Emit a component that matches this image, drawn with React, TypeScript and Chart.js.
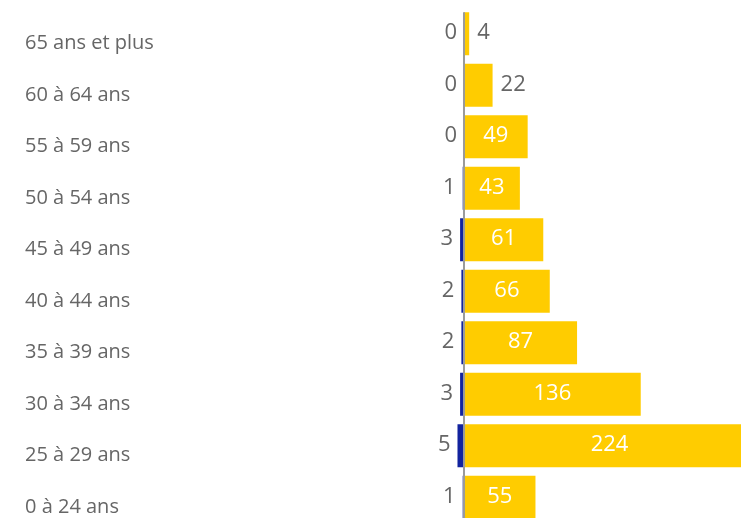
import React, { useEffect, useRef } from "react";
import { Chart, registerables } from "chart.js";

Chart.register(...registerables);

const categories = [
  "65 ans et plus",
  "60 à 64 ans",
  "55 à 59 ans",
  "50 à 54 ans",
  "45 à 49 ans",
  "40 à 44 ans",
  "35 à 39 ans",
  "30 à 34 ans",
  "25 à 29 ans",
  "0 à 24 ans",
];
const leftValues = [0, 0, 0, 1, 3, 2, 2, 3, 5, 1];
const rightValues = [4, 22, 49, 43, 61, 66, 87, 136, 224, 55];

const BLUE = "#12239E";
const YELLOW = "#FFCC00";
const GRAY_TEXT = "#666666";
const VALUE_FONT = "22px 'Open Sans', sans-serif";

const labelPlugin = {
  id: "valueLabels",
  afterDatasetsDraw(chart: any) {
    const ctx = chart.ctx as CanvasRenderingContext2D;
    const xScale = chart.scales.x;
    const zero = xScale.getPixelForValue(0);
    const area = chart.chartArea;
    const meta0 = chart.getDatasetMeta(0);
    const first = meta0.data[0] as any;
    ctx.save();
    ctx.strokeStyle = "#9a9a9a";
    ctx.lineWidth = 2;
    ctx.beginPath();
    ctx.moveTo(zero, first.y - first.height / 2);
    ctx.lineTo(zero, area.bottom + 10);
    ctx.stroke();

    ctx.font = VALUE_FONT;
    ctx.textBaseline = "middle";
    meta0.data.forEach((el: any, i: number) => {
      const left = Math.min(el.x, el.base);
      ctx.fillStyle = GRAY_TEXT;
      ctx.textAlign = "right";
      ctx.fillText(String(leftValues[i]), left - 7, el.y - 1);
    });
    const meta1 = chart.getDatasetMeta(1);
    meta1.data.forEach((el: any, i: number) => {
      const txt = String(rightValues[i]);
      const w = ctx.measureText(txt).width;
      const barW = Math.abs(el.x - el.base);
      const right = Math.min(el.x, area.right);
      if (barW < w + 20) {
        ctx.fillStyle = GRAY_TEXT;
        ctx.textAlign = "left";
        ctx.fillText(txt, el.x + 8, el.y - 1);
      } else {
        ctx.fillStyle = "#ffffff";
        ctx.textAlign = "center";
        ctx.fillText(txt, (el.base + right) / 2, el.y - 1);
      }
    });
    ctx.restore();
  },
};

export default function App() {
  const ref = useRef<HTMLCanvasElement | null>(null);
  useEffect(() => {
    document.body.style.margin = "0";
    document.body.style.overflow = "hidden";
    const canvas = ref.current!;
    const chart = new Chart(canvas, {
      type: "bar",
      data: {
        labels: categories,
        datasets: [
          {
            label: "gauche",
            data: leftValues.map((v) => -v),
            backgroundColor: BLUE,
            borderWidth: 0,
          },
          {
            label: "droite",
            data: rightValues,
            backgroundColor: YELLOW,
            borderWidth: 0,
          },
        ],
      },
      options: {
        indexAxis: "y",
        responsive: false,
        animation: false,
        devicePixelRatio: 1,
        layout: { padding: { left: 25, right: 0.7, top: 8, bottom: 1 } },
        datasets: {
          bar: { categoryPercentage: 1, barPercentage: 0.833 },
        },
        plugins: {
          legend: { display: false },
          tooltip: { enabled: false },
        },
        scales: {
          x: {
            stacked: true,
            display: false,
            min: -30,
            max: 238,
          },
          y: {
            stacked: true,
            afterFit(scale: any) {
              scale.width = 400;
              scale.paddingTop = 0;
              scale.paddingBottom = 0;
            },
            grid: { display: false },
            border: { display: false },
            ticks: {
              crossAlign: "far",
              labelOffset: 10,
              color: GRAY_TEXT,
              font: { family: "'Open Sans', sans-serif", size: 20 },
            },
          },
        },
      },
      plugins: [labelPlugin],
    } as any);
    return () => chart.destroy();
  }, []);
  return (
    <div style={{ width: 741, height: 518, overflow: "hidden", position: "relative" }}>
      <canvas ref={ref} width={774} height={524} style={{ display: "block" }} />
    </div>
  );
}
